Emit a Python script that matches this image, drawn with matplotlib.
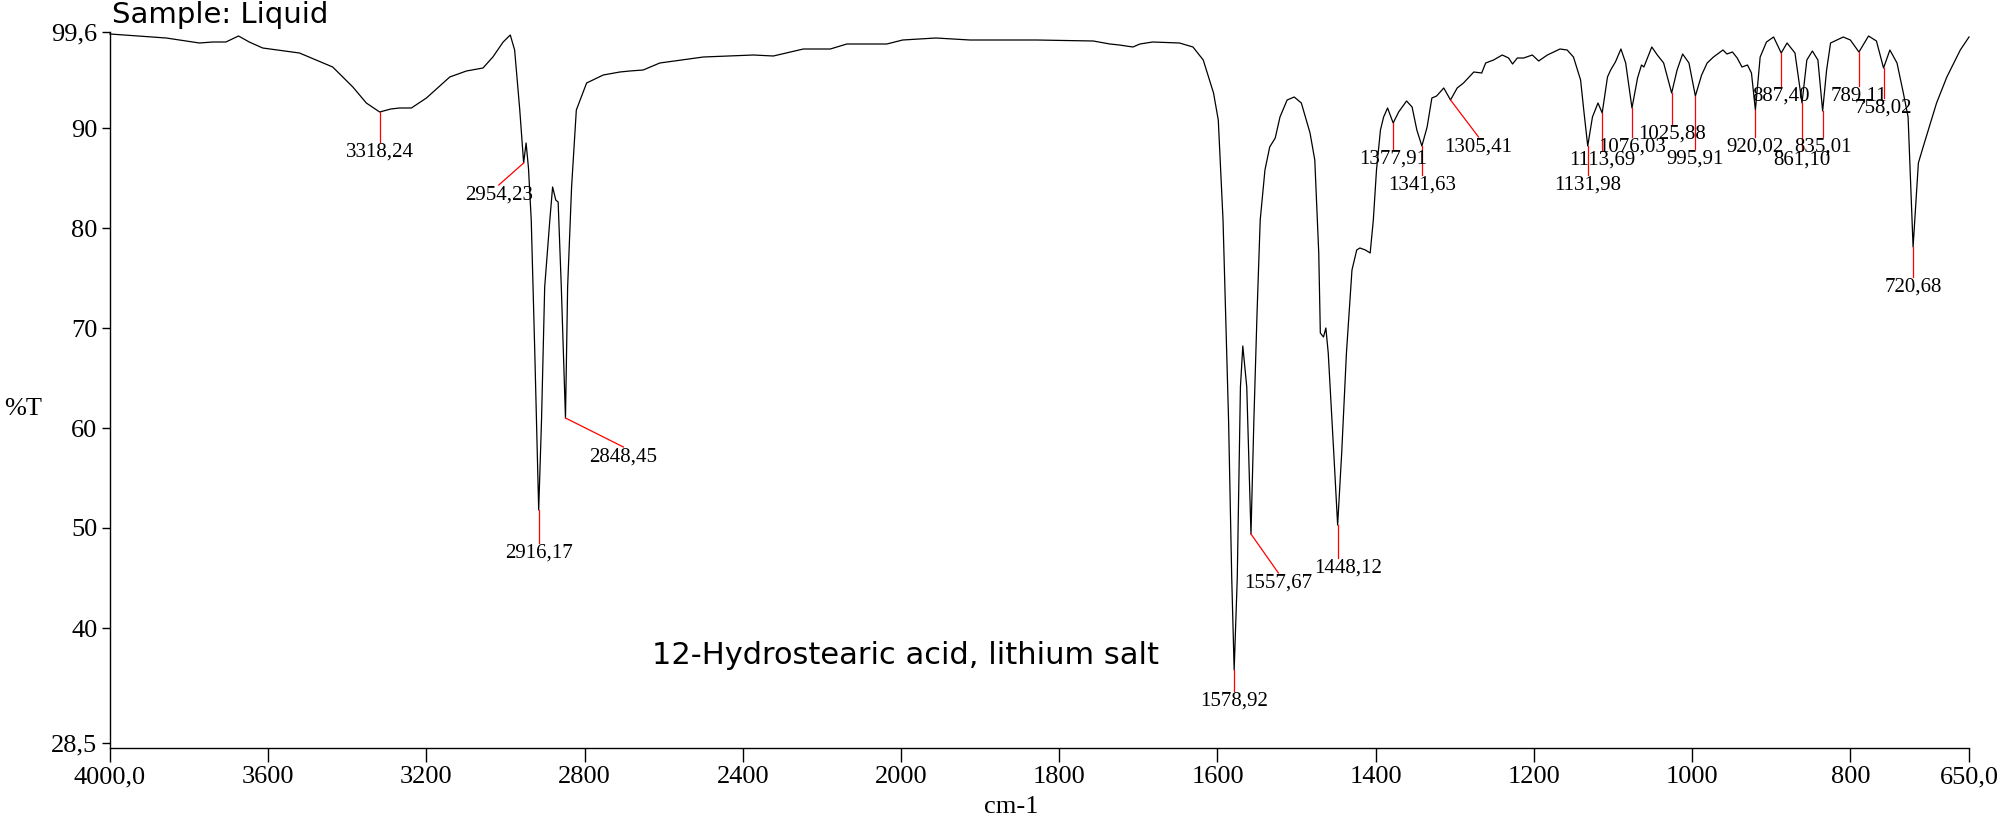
import numpy as np
import matplotlib
matplotlib.use("Agg")
import matplotlib.pyplot as plt

plt.rcParams['font.family'] = ['Liberation Serif', 'DejaVu Serif']

# spectrum: wavenumber (cm-1) and %T
wavenumber = [
    4000, 3930, 3858, 3774, 3740, 3707, 3675, 3648, 3614, 3521, 3437, 3386, 3352,
    3318.24, 3290, 3268, 3238, 3200, 3141, 3099, 3057, 3032, 3006, 2988, 2977,
    2964, 2954.23, 2948, 2942, 2935, 2926, 2916.17, 2909, 2901, 2888, 2881, 2873,
    2867, 2859, 2848.45, 2843, 2833, 2821, 2795, 2753, 2711, 2686, 2652, 2610,
    2500, 2373, 2323, 2247, 2179, 2137, 2036, 1998, 1956, 1913, 1829, 1757, 1736,
    1724, 1707, 1698, 1682, 1648, 1631, 1618, 1605, 1599, 1593, 1586, 1582,
    1578.92, 1575, 1571, 1568, 1563, 1557.67, 1554, 1550, 1546, 1540, 1534, 1527,
    1521, 1512, 1503, 1494, 1483, 1477, 1472, 1470, 1466, 1463, 1460, 1453,
    1448.12, 1443, 1437, 1430, 1424, 1420, 1413, 1407, 1403, 1399, 1394, 1390,
    1385, 1377.91, 1371, 1361, 1354, 1348, 1341.63, 1335, 1329, 1323, 1314,
    1305.41, 1297, 1289, 1276, 1266, 1261, 1251, 1240, 1232, 1227, 1221, 1213,
    1202, 1194, 1183, 1167, 1158, 1150, 1141, 1137, 1131.98, 1126, 1119, 1113.69,
    1107, 1103, 1097, 1090, 1084, 1076.03, 1069, 1064, 1061, 1056, 1051, 1044,
    1036, 1025.88, 1019, 1012, 1004, 995.91, 988, 981, 973, 961, 956, 949, 943,
    937, 930, 925, 920.02, 914, 906, 897, 887.40, 880, 870, 861.10, 855, 848, 841,
    835.01, 830, 825, 809, 800, 789.11, 777, 767, 758.02, 750, 741, 733, 727,
    720.68, 714, 708, 691, 678, 661, 650,
]
transmittance = [
    99.4, 99.2, 99.0, 98.5, 98.6, 98.6, 99.2, 98.6, 98.0, 97.5, 96.1, 94.1, 92.5,
    91.6, 91.9, 92.0, 92.0, 93.0, 95.1, 95.7, 96.0, 97.1, 98.6, 99.3, 97.8,
    91.8, 86.5, 88.5, 86.0, 80.8, 67.5, 51.8, 60.8, 74.1, 80.8, 84.1, 82.8,
    82.6, 74.1, 61.0, 74.1, 84.1, 91.8, 94.5, 95.3, 95.6, 95.7, 95.8, 96.5,
    97.1, 97.3, 97.2, 97.9, 97.9, 98.4, 98.4, 98.8, 99.0, 98.8, 98.8, 98.7, 98.4,
    98.3, 98.1, 98.4, 98.6, 98.5, 98.1, 96.8, 93.5, 90.8, 80.8, 60.8, 45.0,
    35.8, 45.0, 64.1, 68.2, 64.1, 49.4, 60.8, 71.5, 80.8, 85.8, 88.1, 89.0,
    91.1, 92.8, 93.1, 92.5, 89.5, 86.8, 77.5, 69.5, 69.1, 70.0, 67.5, 57.5,
    50.3, 57.5, 67.5, 75.8, 77.8, 78.0, 77.8, 77.5, 80.8, 85.8, 89.8, 91.1,
    92.0, 90.5, 91.6, 92.7, 92.1, 89.8, 88.2, 90.1, 93.0, 93.2, 94.0,
    92.8, 94.0, 94.5, 95.6, 95.5, 96.5, 96.8, 97.3, 97.0, 96.4, 97.0, 97.0,
    97.3, 96.7, 97.3, 97.9, 97.8, 97.1, 94.8, 91.8, 88.2, 91.1, 92.5, 91.5,
    95.1, 95.8, 96.6, 97.9, 96.5, 92.0, 95.0, 96.3, 96.1, 97.1, 98.1, 97.3,
    96.5, 93.5, 95.8, 97.4, 96.5, 93.2, 95.3, 96.5, 97.1, 97.8, 97.4, 97.6, 97.0,
    96.1, 96.3, 95.5, 91.8, 97.1, 98.6, 99.1, 97.5, 98.5, 97.5, 92.5, 96.8, 97.7, 96.8,
    91.7, 95.8, 98.5, 99.1, 98.8, 97.6, 99.2, 98.7, 96.0, 97.8, 96.5, 93.5, 91.1,
    78.1, 86.5, 88.1, 92.5, 95.1, 97.8, 99.1,
]

# labelled peaks
peak_wn = [3318.24, 2954.23, 2916.17, 2848.45, 1578.92, 1557.67, 1448.12,
           1377.91, 1341.63, 1305.41, 1131.98, 1113.69, 1076.03, 1025.88,
           995.91, 920.02, 887.40, 861.10, 835.01, 789.11, 758.02, 720.68]
peak_t = [91.6, 86.5, 51.8, 61.0, 35.8, 49.4, 50.3,
          90.5, 88.2, 92.8, 88.2, 91.5, 92.0, 93.5,
          93.2, 91.8, 97.5, 92.5, 91.7, 97.6, 96.0, 78.1]
# where each red leader line ends (label sits just below)
leader_wn = [3318.24, 3017, 2916.17, 2702, 1578.92, 1523, 1448.12,
             1377.91, 1341.63, 1270, 1131.98, 1113.69, 1076.03, 1025.88,
             995.91, 920.02, 887.40, 861.10, 835.01, 789.11, 758.02, 720.68]
leader_t = [88.6, 84.3, 48.5, 58.1, 33.7, 45.5, 47.0,
            87.9, 85.3, 89.1, 85.3, 87.8, 89.1, 90.4,
            87.9, 89.1, 94.2, 87.8, 89.1, 94.2, 93.0, 75.1]

xticks = [4000, 3600, 3200, 2800, 2400, 2000, 1800, 1600, 1400, 1200, 1000, 800, 650]
xticklabels = ['4000,0', '3600', '3200', '2800', '2400', '2000', '1800', '1600',
               '1400', '1200', '1000', '800', '650,0']
yticks = [28.5, 40, 50, 60, 70, 80, 90, 99.6]
yticklabels = ['28,5', '40', '50', '60', '70', '80', '90', '99,6']


# IR plots use half the scale above 2000 cm-1
def fwd(w):
    w = np.asarray(w, dtype=float)
    return np.where(w > 2000, 2000 + (w - 2000) / 2.0, w)


def inv(u):
    u = np.asarray(u, dtype=float)
    return np.where(u > 2000, 2000 + (u - 2000) * 2.0, u)


W, H = 2003, 822
fig = plt.figure(figsize=(W / 100, H / 100), dpi=100)
ax = fig.add_axes([110 / W, 1 - 748 / H, (1969 - 110) / W, (748 - 32) / H])
ax.set_xscale('function', functions=(fwd, inv))
ax.set_xlim(4000, 650)
ax.set_ylim(28.0, 99.6)

ax.plot(wavenumber, transmittance, color='black', lw=0.9, clip_on=False)

for pw, pt, lw_, lt in zip(peak_wn, peak_t, leader_wn, leader_t):
    ax.plot([pw, lw_], [pt, lt], color='red', lw=0.9, clip_on=False)
    # the 1448 label sits a little right of its leader in the original
    shift = 10 if pw == 1448.12 else 0
    ax.annotate(f"{pw:.2f}".replace('.', ','), (lw_, lt - 0.1),
                xytext=(shift, 0), textcoords='offset pixels',
                ha='center', va='top', fontsize=15, color='black')

for s in ['top', 'right']:
    ax.spines[s].set_visible(False)
for s in ['left', 'bottom']:
    ax.spines[s].set_linewidth(1.0)

ax.set_xticks(xticks)
ax.set_xticklabels(xticklabels)
ax.set_yticks(yticks)
ax.set_yticklabels(yticklabels)
ax.xaxis.set_minor_locator(matplotlib.ticker.NullLocator())
ax.tick_params(axis='x', direction='out', length=10, width=1, labelsize=19, pad=3)
ax.tick_params(axis='y', direction='out', length=6, width=1, labelsize=19, pad=3)

fig.text(23 / W, 1 - 409 / H, '%T', fontsize=19, ha='center', va='center')
fig.text(0.505, 0.018, 'cm-1', fontsize=19, ha='center', va='center')
fig.text(112 / W, 1 - 23 / H, 'Sample: Liquid', fontsize=21, ha='left',
         va='baseline', family='DejaVu Sans')
fig.text(0.452, 0.202, '12-Hydrostearic acid, lithium salt', fontsize=22,
         ha='center', va='center', family='DejaVu Sans')

fig.savefig('out.png', dpi=100)
